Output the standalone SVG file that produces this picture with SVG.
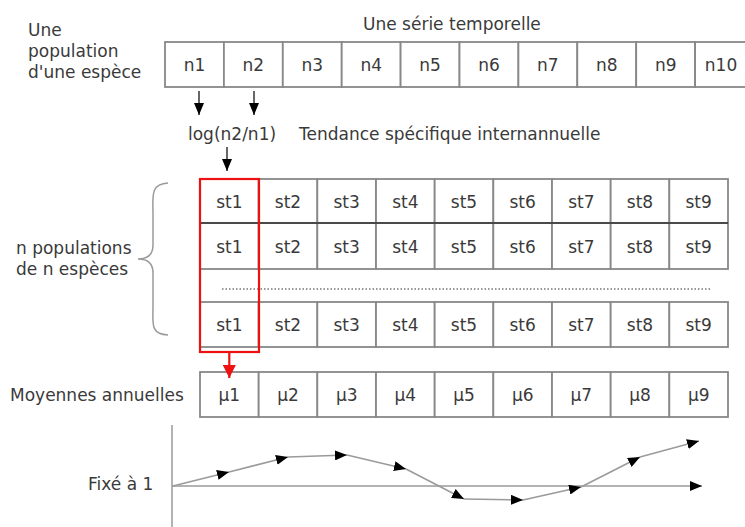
<svg xmlns="http://www.w3.org/2000/svg" width="745" height="527" viewBox="0 0 745 527">
<style>
text{font-family:"DejaVu Sans","Liberation Sans",sans-serif;font-size:17px;fill:#3a3a3a}
.c{text-anchor:middle}
.cell rect{fill:#fff;stroke:#888;stroke-width:1.8}
.ln{stroke:#000;stroke-width:1.2;fill:none}
.gl{stroke:#9a9a9a;stroke-width:1.5;fill:none}
.red{stroke:#ee1111;stroke-width:2.2;fill:none}
</style>
<defs>
<marker id="ah" markerUnits="userSpaceOnUse" markerWidth="12" markerHeight="10" refX="12" refY="5" orient="auto"><path d="M0,0 L12,5 L0,10 z" fill="#000"/></marker>
<marker id="ahr" markerUnits="userSpaceOnUse" markerWidth="13" markerHeight="13" refX="13" refY="6.5" orient="auto"><path d="M0,0 L13,6.5 L0,13 z" fill="#ee1111"/></marker>
</defs>
<rect width="745" height="527" fill="#fff"/>

<g id="labels">
<text x="28" y="36">Une</text>
<text x="28" y="57">population</text>
<text x="28" y="78">d'une espèce</text>
<text x="363" y="30">Une série temporelle</text>
<text x="188" y="139.5">log(n2/n1)</text>
<text x="299" y="140">Tendance spécifique internannuelle</text>
<text x="16" y="254">n populations</text>
<text x="16" y="275">de n espèces</text>
<text x="10" y="401">Moyennes annuelles</text>
<text x="88" y="490">Fixé à 1</text>
</g>

<g id="serie">
<g id="n1" class="cell"><rect x="165" y="42" width="58.9" height="45"/><text class="c" x="194.5" y="71">n1</text></g>
<g id="n2" class="cell"><rect x="223.9" y="42" width="58.9" height="45"/><text class="c" x="253.4" y="71">n2</text></g>
<g id="n3" class="cell"><rect x="282.8" y="42" width="58.9" height="45"/><text class="c" x="312.3" y="71">n3</text></g>
<g id="n4" class="cell"><rect x="341.7" y="42" width="58.9" height="45"/><text class="c" x="371.2" y="71">n4</text></g>
<g id="n5" class="cell"><rect x="400.6" y="42" width="58.9" height="45"/><text class="c" x="430.1" y="71">n5</text></g>
<g id="n6" class="cell"><rect x="459.5" y="42" width="58.9" height="45"/><text class="c" x="489" y="71">n6</text></g>
<g id="n7" class="cell"><rect x="518.4" y="42" width="58.9" height="45"/><text class="c" x="547.9" y="71">n7</text></g>
<g id="n8" class="cell"><rect x="577.3" y="42" width="58.9" height="45"/><text class="c" x="606.8" y="71">n8</text></g>
<g id="n9" class="cell"><rect x="636.2" y="42" width="58.9" height="45"/><text class="c" x="665.7" y="71">n9</text></g>
<g id="n10" class="cell"><rect x="695.1" y="42" width="58.9" height="45"/><text class="c" x="721" y="71">n10</text></g>
</g>

<g id="row1">
<g id="r1st1" class="cell"><rect x="200" y="179" width="58.67" height="44"/><text class="c" x="229.3" y="207.5">st1</text></g>
<g id="r1st2" class="cell"><rect x="258.67" y="179" width="58.67" height="44"/><text class="c" x="288" y="207.5">st2</text></g>
<g id="r1st3" class="cell"><rect x="317.33" y="179" width="58.67" height="44"/><text class="c" x="346.7" y="207.5">st3</text></g>
<g id="r1st4" class="cell"><rect x="376" y="179" width="58.67" height="44"/><text class="c" x="405.3" y="207.5">st4</text></g>
<g id="r1st5" class="cell"><rect x="434.67" y="179" width="58.67" height="44"/><text class="c" x="464" y="207.5">st5</text></g>
<g id="r1st6" class="cell"><rect x="493.33" y="179" width="58.67" height="44"/><text class="c" x="522.7" y="207.5">st6</text></g>
<g id="r1st7" class="cell"><rect x="552" y="179" width="58.67" height="44"/><text class="c" x="581.3" y="207.5">st7</text></g>
<g id="r1st8" class="cell"><rect x="610.67" y="179" width="58.67" height="44"/><text class="c" x="640" y="207.5">st8</text></g>
<g id="r1st9" class="cell"><rect x="669.33" y="179" width="58.67" height="44"/><text class="c" x="698.7" y="207.5">st9</text></g>
</g>

<g id="row2">
<g id="r2st1" class="cell"><rect x="200" y="223" width="58.67" height="46"/><text class="c" x="229.3" y="252.5">st1</text></g>
<g id="r2st2" class="cell"><rect x="258.67" y="223" width="58.67" height="46"/><text class="c" x="288" y="252.5">st2</text></g>
<g id="r2st3" class="cell"><rect x="317.33" y="223" width="58.67" height="46"/><text class="c" x="346.7" y="252.5">st3</text></g>
<g id="r2st4" class="cell"><rect x="376" y="223" width="58.67" height="46"/><text class="c" x="405.3" y="252.5">st4</text></g>
<g id="r2st5" class="cell"><rect x="434.67" y="223" width="58.67" height="46"/><text class="c" x="464" y="252.5">st5</text></g>
<g id="r2st6" class="cell"><rect x="493.33" y="223" width="58.67" height="46"/><text class="c" x="522.7" y="252.5">st6</text></g>
<g id="r2st7" class="cell"><rect x="552" y="223" width="58.67" height="46"/><text class="c" x="581.3" y="252.5">st7</text></g>
<g id="r2st8" class="cell"><rect x="610.67" y="223" width="58.67" height="46"/><text class="c" x="640" y="252.5">st8</text></g>
<g id="r2st9" class="cell"><rect x="669.33" y="223" width="58.67" height="46"/><text class="c" x="698.7" y="252.5">st9</text></g>
<line x1="200" y1="223" x2="728" y2="223" stroke="#333" stroke-width="1.4"/>
</g>

<g id="rowN">
<g id="rnst1" class="cell"><rect x="200" y="302" width="58.67" height="45"/><text class="c" x="229.3" y="331">st1</text></g>
<g id="rnst2" class="cell"><rect x="258.67" y="302" width="58.67" height="45"/><text class="c" x="288" y="331">st2</text></g>
<g id="rnst3" class="cell"><rect x="317.33" y="302" width="58.67" height="45"/><text class="c" x="346.7" y="331">st3</text></g>
<g id="rnst4" class="cell"><rect x="376" y="302" width="58.67" height="45"/><text class="c" x="405.3" y="331">st4</text></g>
<g id="rnst5" class="cell"><rect x="434.67" y="302" width="58.67" height="45"/><text class="c" x="464" y="331">st5</text></g>
<g id="rnst6" class="cell"><rect x="493.33" y="302" width="58.67" height="45"/><text class="c" x="522.7" y="331">st6</text></g>
<g id="rnst7" class="cell"><rect x="552" y="302" width="58.67" height="45"/><text class="c" x="581.3" y="331">st7</text></g>
<g id="rnst8" class="cell"><rect x="610.67" y="302" width="58.67" height="45"/><text class="c" x="640" y="331">st8</text></g>
<g id="rnst9" class="cell"><rect x="669.33" y="302" width="58.67" height="45"/><text class="c" x="698.7" y="331">st9</text></g>
</g>

<g id="dots"><line x1="222" y1="289" x2="710" y2="289" stroke="#777" stroke-width="1.4" stroke-dasharray="1.5,2"/></g>

<g id="moyennes">
<g id="mu1" class="cell"><rect x="200" y="372" width="58.67" height="45"/><text class="c" x="229.3" y="401">µ1</text></g>
<g id="mu2" class="cell"><rect x="258.67" y="372" width="58.67" height="45"/><text class="c" x="288" y="401">µ2</text></g>
<g id="mu3" class="cell"><rect x="317.33" y="372" width="58.67" height="45"/><text class="c" x="346.7" y="401">µ3</text></g>
<g id="mu4" class="cell"><rect x="376" y="372" width="58.67" height="45"/><text class="c" x="405.3" y="401">µ4</text></g>
<g id="mu5" class="cell"><rect x="434.67" y="372" width="58.67" height="45"/><text class="c" x="464" y="401">µ5</text></g>
<g id="mu6" class="cell"><rect x="493.33" y="372" width="58.67" height="45"/><text class="c" x="522.7" y="401">µ6</text></g>
<g id="mu7" class="cell"><rect x="552" y="372" width="58.67" height="45"/><text class="c" x="581.3" y="401">µ7</text></g>
<g id="mu8" class="cell"><rect x="610.67" y="372" width="58.67" height="45"/><text class="c" x="640" y="401">µ8</text></g>
<g id="mu9" class="cell"><rect x="669.33" y="372" width="58.67" height="45"/><text class="c" x="698.7" y="401">µ9</text></g>
</g>

<g id="selection"><rect class="red" x="200" y="179" width="59" height="173"/></g>

<g id="brace"><path class="gl" d="M168,183 C150,184 153,196 153,215 L153,245 C153,254 148,259 138,259 C148,259 153,264 153,273 L153,305 C153,324 150,334 168,335"/></g>

<g id="connectors">
<line class="ln" x1="199" y1="91" x2="199" y2="115" marker-end="url(#ah)"/>
<line class="ln" x1="254" y1="91" x2="254" y2="115" marker-end="url(#ah)"/>
<line class="ln" x1="227" y1="147" x2="227" y2="171" marker-end="url(#ah)"/>
<line stroke="#ee1111" stroke-width="2.2" x1="229.3" y1="352" x2="229.3" y2="378" marker-end="url(#ahr)"/>
</g>

<g id="graph">
<line class="gl" x1="172" y1="425" x2="172" y2="527"/>
<line class="gl" x1="172" y1="486" x2="702" y2="486" marker-end="url(#ah)"/>
<g class="gl" marker-end="url(#ah)">
<line x1="173" y1="486" x2="229" y2="472"/>
<line x1="229" y1="472" x2="288" y2="457"/>
<line x1="288" y1="457" x2="347" y2="455"/>
<line x1="347" y1="455" x2="406" y2="469"/>
<line x1="406" y1="469" x2="464" y2="499"/>
<line x1="464" y1="499" x2="523" y2="500"/>
<line x1="523" y1="500" x2="581" y2="487"/>
<line x1="581" y1="487" x2="640" y2="457"/>
<line x1="640" y1="457" x2="699" y2="441"/>
</g>
</g>
</svg>
